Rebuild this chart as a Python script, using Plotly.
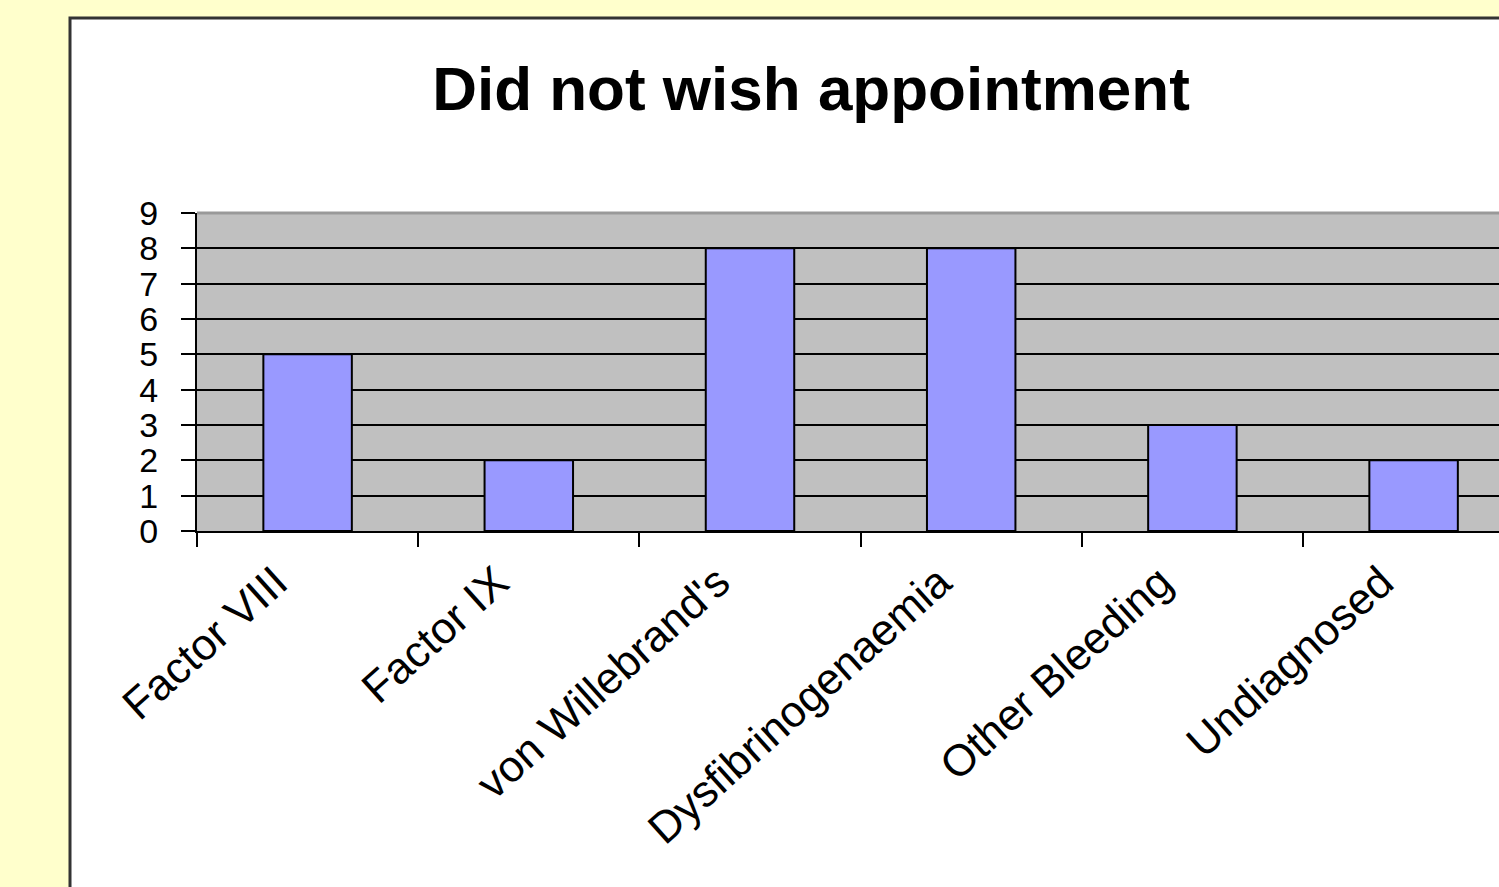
import plotly.graph_objects as go

# chart data
categories = ["Factor VIII", "Factor IX", "von Willebrand's",
              "Dysfibrinogenaemia", "Other Bleeding", "Undiagnosed"]
counts = [5, 2, 8, 8, 3, 2]
y_ticks = [0, 1, 2, 3, 4, 5, 6, 7, 8, 9]

W, H = 1499, 887
L, T = 197, 213
B = H - 531
plot_w = W - L
plot_h = H - T - B

fig = go.Figure()

fig.add_trace(go.Bar(
    x=categories,
    y=counts,
    width=0.4,
    marker=dict(color="#9999FF", line=dict(color="black", width=2)),
    showlegend=False,
))

# white chart area with dark border, running off the right/bottom edge
fig.add_shape(
    type="rect", xref="paper", yref="paper", layer="below",
    x0=(70 - L) / plot_w, x1=1.2,
    y0=-2.0, y1=(H - B - 18) / plot_h,
    fillcolor="white", line=dict(color="#333333", width=3),
)
# grey plot area
fig.add_shape(
    type="rect", xref="paper", yref="paper", layer="below",
    x0=0, x1=1, y0=0, y1=1,
    fillcolor="#C0C0C0", line=dict(width=0),
)
# grey border on top of plot area
fig.add_shape(
    type="line", xref="paper", yref="paper",
    x0=0, x1=1, y0=1, y1=1,
    line=dict(color="#999999", width=3),
)

fig.update_layout(
    width=W, height=H,
    margin=dict(l=L, r=0, t=T, b=B),
    paper_bgcolor="#FFFFCC",
    plot_bgcolor="#C0C0C0",
    title=dict(
        text="<b>Did not wish appointment</b>",
        x=811 / W, xanchor="center",
        y=1 - 88 / H, yanchor="middle",
        font=dict(family="Liberation Sans, Arial", size=62, color="black"),
    ),
)

fig.update_xaxes(
    range=[-0.5, -0.5 + plot_w / 221.2],
    showline=True, linecolor="black", linewidth=2,
    ticks="outside", ticklen=14, tickwidth=2, tickcolor="black",
    tickson="boundaries",
    tickangle=-42,
    ticklabelstandoff=6,
    ticklabelshift=-32,
    tickfont=dict(family="Liberation Sans, Arial", size=44, color="black"),
    showgrid=False,
)

fig.update_yaxes(
    range=[0, 9],
    tickvals=y_ticks,
    showline=True, linecolor="black", linewidth=2,
    ticks="outside", ticklen=14, tickwidth=2, tickcolor="black",
    ticklabelstandoff=16,
    tickfont=dict(family="Liberation Sans, Arial", size=34, color="black"),
    showgrid=True, gridcolor="black", gridwidth=2,
    zeroline=False,
)

# drop the page's default body margin so the figure fills the window
fig.write_html("out.html",
               config={"displayModeBar": False},
               post_script="document.body.style.margin='0';"
                           "document.body.style.overflow='hidden';")
